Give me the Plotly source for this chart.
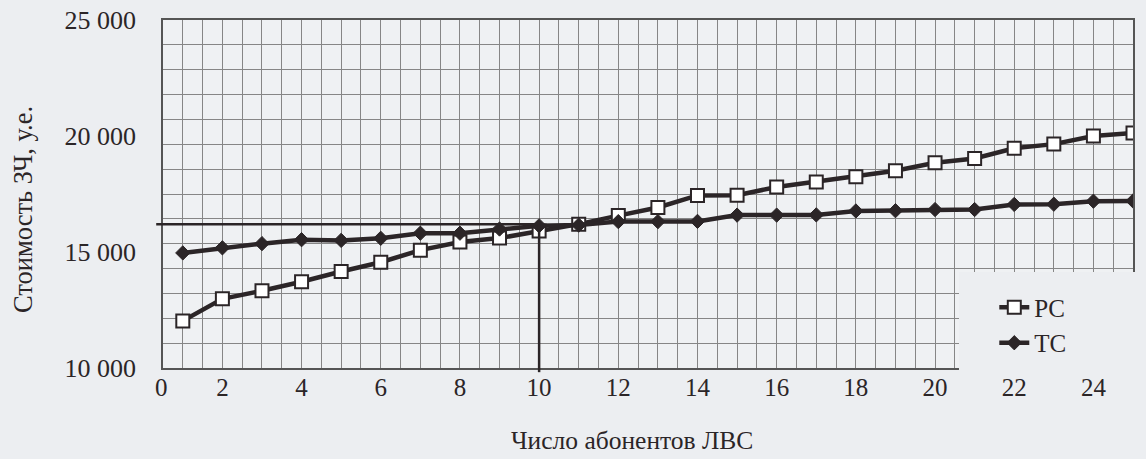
import plotly.graph_objects as go

# ---- data ----
nodes = list(range(1, 26))
pc_cost = [12030, 12980, 13330, 13720, 14160, 14560, 15080, 15430, 15600, 15910,
           16200, 16570, 16920, 17440, 17450, 17800, 18020, 18240, 18500, 18850,
           19030, 19470, 19650, 20000, 20130]
tc_cost = [14960, 15180, 15360, 15530, 15500, 15590, 15810, 15810, 15990, 16130,
           16160, 16310, 16310, 16320, 16590, 16590, 16600, 16770, 16780, 16830,
           16830, 17050, 17060, 17190, 17200]
x_tick_vals = [2, 4, 6, 8, 10, 12, 14, 16, 18, 20, 22, 24]
x_tick_text = [str(v) for v in x_tick_vals]
y_tick_vals = [10000, 15000, 20000, 25000]
y_tick_text = ["10 000", "15 000", "20 000", "25 000"]
cross_x = 10
cross_y = 16200
series_names = ["PC", "TC"]
x_title = "Число абонентов ЛВС"
y_title = "Стоимость ЗЧ, у.е."

FONT = "Liberation Serif"
INK = "#2b2527"
GRID = "#868686"
PAPER = "#eceef1"

fig = go.Figure()
fig.add_trace(go.Scatter(
    x=nodes, y=pc_cost, name=series_names[0], mode="lines+markers",
    line=dict(color=INK, width=4.5),
    marker=dict(symbol="square", size=13, color="white", line=dict(color=INK, width=2)),
))
fig.add_trace(go.Scatter(
    x=nodes, y=tc_cost, name=series_names[1], mode="lines+markers",
    line=dict(color=INK, width=4.5),
    marker=dict(symbol="diamond", size=11, color=INK, line=dict(color=INK, width=1)),
))

# crossing guide lines
fig.add_shape(type="line", xref="paper", yref="y", x0=-0.007, x1=(cross_x - 0.5) / 24.5,
              y0=cross_y, y1=cross_y, line=dict(color=INK, width=2.5), layer="above")
fig.add_shape(type="line", xref="x", yref="paper", x0=cross_x, x1=cross_x,
              y0=-0.012, y1=(cross_y - 10000) / 15000, line=dict(color=INK, width=2.5), layer="above")

# blank legend panel covering the lower-right corner of the grid
fig.add_shape(type="rect", xref="paper", yref="paper", x0=0.8206, x1=1.02, y0=-0.03, y1=0.276,
              fillcolor=PAPER, line=dict(width=0), layer="above")

fig.add_annotation(text="0", xref="paper", yref="paper", x=-0.01, y=-0.055, yanchor="middle",
                   showarrow=False, font=dict(family=FONT, size=25, color=INK))
fig.add_annotation(text=x_title, xref="paper", yref="paper", x=0.4835, y=-0.207, yanchor="middle",
                   showarrow=False, font=dict(family=FONT, size=25.5, color=INK))
fig.add_annotation(text=y_title, xref="paper", yref="paper", x=-0.1443, y=0.454, textangle=-90,
                   xanchor="center", yanchor="middle",
                   showarrow=False, font=dict(family=FONT, size=26.5, color=INK))

fig.update_layout(
    width=1146, height=459,
    margin=dict(l=163, r=13, t=20, b=91, autoexpand=False),
    paper_bgcolor=PAPER, plot_bgcolor="#eff1f3",
    font=dict(family=FONT, size=26, color=INK),
    showlegend=True,
    legend=dict(x=0.857, y=0.24, xanchor="left", yanchor="top", bgcolor="rgba(0,0,0,0)",
                font=dict(family=FONT, size=25, color=INK), itemwidth=30, tracegroupgap=0),
    xaxis=dict(range=[0.5, 25], tickvals=x_tick_vals, ticktext=x_tick_text, automargin=False,
               tickfont=dict(family=FONT, size=25, color=INK),
               showgrid=False, zeroline=False, ticks="", ticklabelstandoff=-4,
               showline=True, linecolor="#555", linewidth=1.5, mirror=True,
               minor=dict(dtick=0.5, tick0=0.5, showgrid=True, gridcolor=GRID, gridwidth=1)),
    yaxis=dict(range=[10000, 25000], tickvals=y_tick_vals, ticktext=y_tick_text, automargin=False,
               tickfont=dict(family=FONT, size=26, color=INK),
               showgrid=False, zeroline=False, ticks="", ticklabelstandoff=20,
               showline=True, linecolor="#555", linewidth=1.5, mirror=True,
               minor=dict(dtick=15000 / 14, tick0=10000, showgrid=True, gridcolor=GRID, gridwidth=1)),
)

fig.write_html("out.html", config={"displayModeBar": False},
               post_script="document.body.style.margin='0';document.body.style.background='%s';" % PAPER)
